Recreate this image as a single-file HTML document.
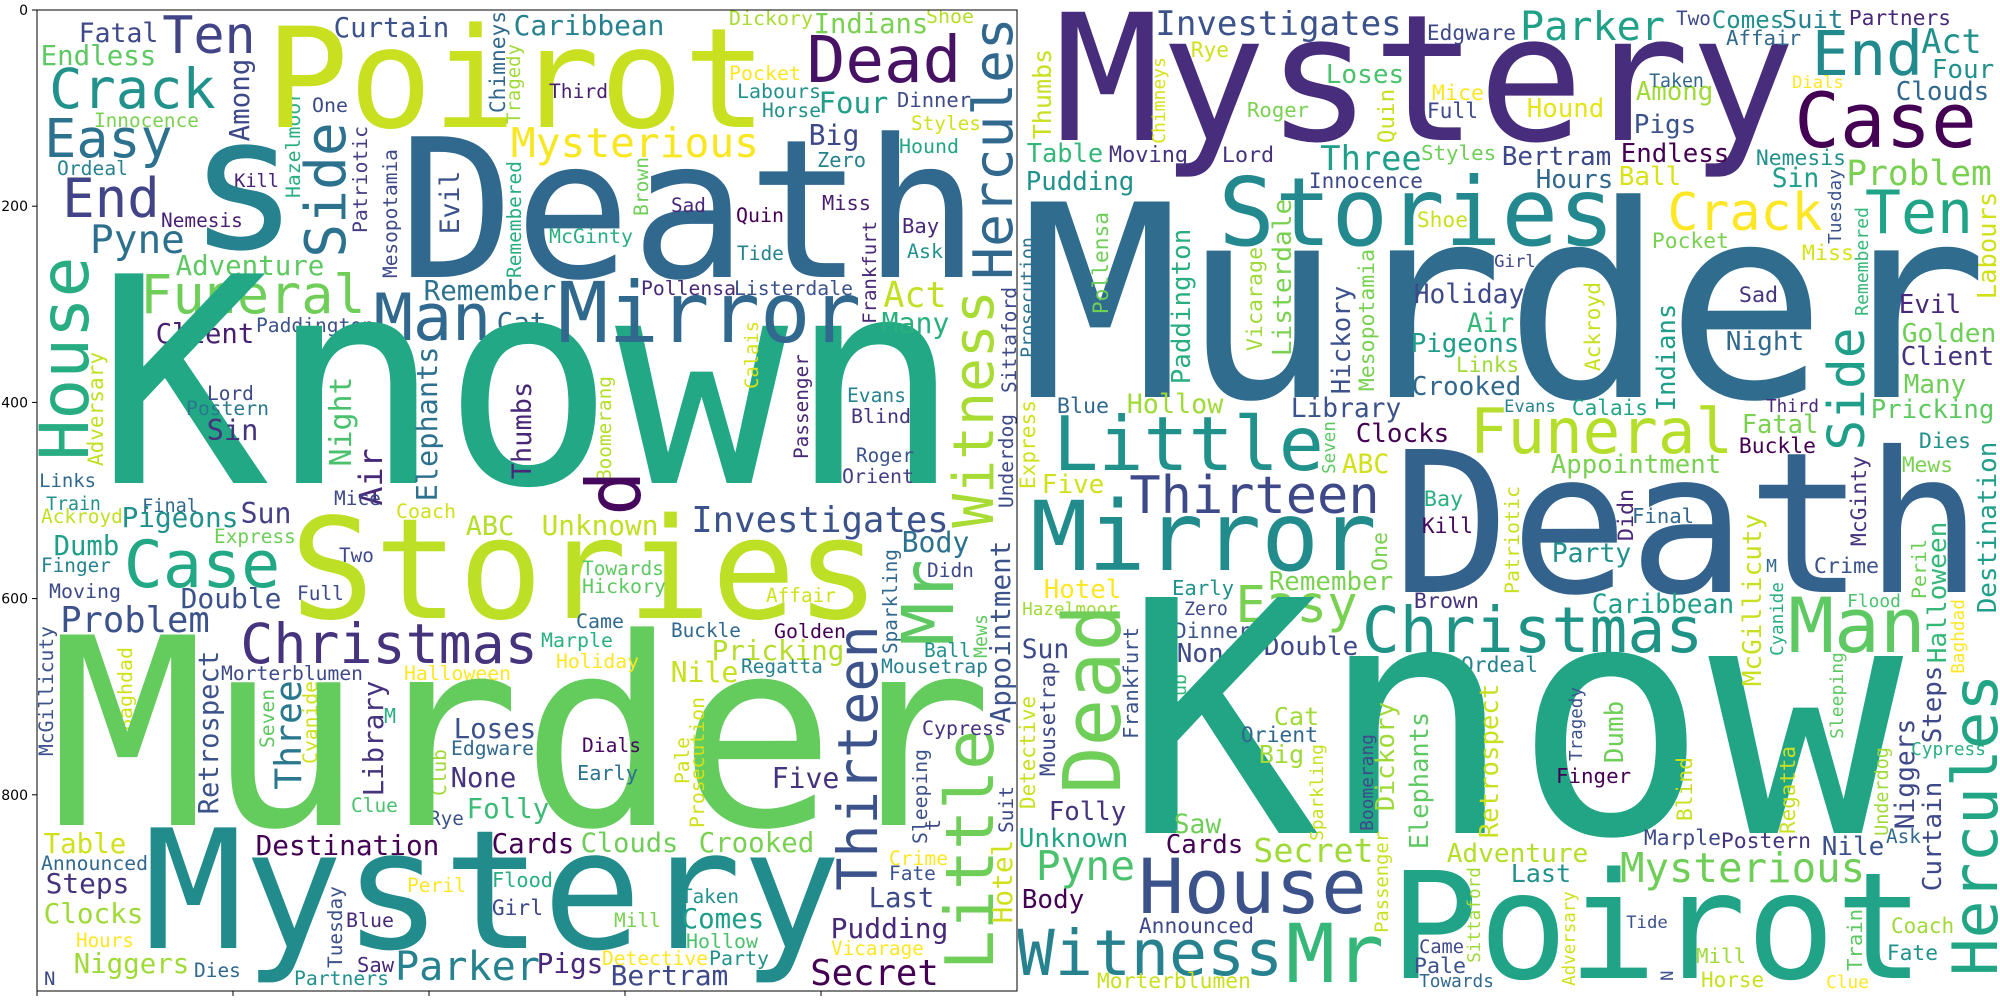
<!DOCTYPE html>
<html><head><meta charset="utf-8">
<style>
html,body{margin:0;padding:0;background:#fff;}
svg{display:block;}
text{font-family:"DejaVu Sans Mono","Liberation Mono",monospace;}
.tick{font-family:"DejaVu Sans","Liberation Sans",sans-serif;font-size:14px;fill:#000;}
</style></head>
<body>
<svg id="chart" width="2000" height="1000" viewBox="0 0 2000 1000" xmlns="http://www.w3.org/2000/svg">
<defs>
<clipPath id="clipL"><rect x="37" y="10" width="980" height="981"/></clipPath>
<clipPath id="clipR"><rect x="1018" y="10" width="982" height="981"/></clipPath>
</defs>
<rect x="0" y="0" width="2000" height="1000" fill="#fff"/>
<g id="left" clip-path="url(#clipL)"></g>
<g id="right" clip-path="url(#clipR)"></g>
<g id="axes"></g>
</svg>
<script>
const yTicks = [0,200,400,600,800];
const xTicks = [0,200,400,600,800];
const yTickLabels = ["0","200","400","600","800"];

const leftWords = [
["Fatal",80,42,77,"#3e4989",0],["Ten",165,53,88,"#414487",0],["Curtain",335,37,113,"#3b528b",0],
["Endless",42,65,113,"#5ec962",0],["Crack",52,108,161,"#21918c",0],["Among",249,140,80,"#3e4989",1],
["One",313,112,34,"#3e4989",0],["Innocence",95,127,103,"#7ad151",0],["Easy",47,157,123,"#2c728e",0],
["Ordeal",58,175,69,"#26828e",0],["End",65,217,92,"#414487",0],["Kill",235,187,43,"#482475",0],
["Nemesis",162,227,80,"#481f70",0],["Pyne",92,253,91,"#2d708e",0],["s",197,248,0,"#26828e",0,185],
["Side",345,255,130,"#2c728e",1],["Hazelmoor",300,197,105,"#29af7f",1],["Patriotic",367,232,105,"#433e85",1],
["Mesopotamia",397,277,127,"#3e4989",1],["Evil",459,233,61,"#3b528b",1],["Chimneys",505,112,100,"#31688e",1],
["Tragedy",520,123,78,"#a0da39",1],["Remembered",521,277,115,"#29af7f",1],["Poirot",272,127,488,"#c8e020",0],
["Death",408,277,562,"#31688e",0],["Adventure",177,275,146,"#5ec962",0],["Funeral",143,313,220,"#6ece58",0],
["House",88,457,197,"#27ad81",1],["Client",157,343,96,"#481f70",0],["Paddington",257,332,116,"#3b528b",0],
["Man",377,340,111,"#31688e",0],["Remember",425,300,130,"#2c728e",0],["Cat",498,332,47,"#31688e",0],
["Adversary",103,465,112,"#c2df23",1],["Known",110,483,837,"#22a884",0],["Lord",208,400,45,"#3e4989",0],
["Postern",187,415,81,"#2a788e",0],["Sin",208,440,49,"#46337e",0],["Night",351,465,87,"#4ac16d",1],
["Air",382,504,54,"#482878",1],["Elephants",437,500,152,"#2c728e",1],["Thumbs",531,478,95,"#482878",1],
["Links",40,487,55,"#31688e",0],["Train",47,510,53,"#21918c",0],["Final",143,512,54,"#31688e",0],
["Mice",335,505,45,"#3e4989",0],["Caribbean",515,35,148,"#26828e",0],["Dickory",730,25,82,"#a8db34",0],
["Indians",815,33,112,"#7ad151",0],["Shoe",927,23,46,"#b5de2b",0],["Dead",810,82,148,"#471164",0],
["Hercules",1012,277,257,"#31688e",1],["Pocket",730,80,70,"#fde725",0],["Third",550,98,57,"#481f70",0],
["Labours",738,98,82,"#21918c",0],["Four",820,113,67,"#1f9e89",0],["Horse",763,117,57,"#21918c",0],
["Dinner",898,107,72,"#3e4989",0],["Styles",912,130,68,"#d0e11c",0],["Mysterious",513,157,244,"#f8e621",0],
["Big",810,145,48,"#3e4989",0],["Hound",900,153,58,"#21a585",0],["Zero",818,167,47,"#26828e",0],
["Brown",648,215,57,"#6ece58",1],["Sad",672,212,33,"#482878",0],["Quin",737,222,46,"#440154",0],
["Miss",823,210,47,"#481f70",0],["McGinty",550,243,82,"#29af7f",0],["Bay",903,233,35,"#482878",0],
["Tide",738,260,45,"#26828e",0],["Ask",908,258,34,"#21918c",0],["Frankfurt",876,323,101,"#482878",1],
["Pollensa",642,295,93,"#482878",0],["Listerdale",735,295,117,"#3b528b",0],["Act",885,307,60,"#c2df23",0],
["Many",883,333,65,"#2ab07f",0],["Mirror",562,342,295,"#31688e",0],["Witness",993,525,232,"#a8db34",1],
["Sittaford",1016,392,104,"#3e4989",1],["Underdog",1013,507,92,"#3e4989",1],["Calais",758,388,66,"#d8e219",1],
["Boomerang",611,480,103,"#b5de2b",1],["Passenger",808,458,103,"#482878",1],["Evans",848,402,57,"#26828e",0],
["Blind",852,423,58,"#46337e",0],["Roger",857,462,56,"#3b528b",0],["Orient",843,483,70,"#433e85",0],
["d",640,512,0,"#46085c",1,75],["Ackroyd",42,523,80,"#c2df23",0],["Pigeons",123,527,114,"#21918c",0],
["Sun",242,523,48,"#433e85",0],["Coach",397,518,58,"#d0e11c",0],["ABC",467,535,46,"#b5de2b",0],
["Unknown",543,535,114,"#c2df23",0],["Investigates",693,532,254,"#3b528b",0],["Express",215,543,80,"#6ece58",0],
["Dumb",55,555,63,"#1f9e89",0],["Case",127,587,150,"#22a884",0],["Two",340,562,33,"#3e4989",0],
["Finger",42,572,68,"#26828e",0],["Moving",50,598,70,"#3e4989",0],["Double",182,608,98,"#3b528b",0],
["Full",298,600,45,"#3e4989",0],["Stories",297,618,576,"#bddf26",0],["Towards",583,575,80,"#5ec962",0],
["Hickory",583,593,82,"#5ec962",0],["Affair",767,602,68,"#d0e11c",0],["Body",903,552,65,"#2c728e",0],
["Didn",928,577,45,"#3e4989",0],["Sparkling",897,653,103,"#31688e",1],["Mr",953,642,79,"#5ec962",1],
["Appointment",1010,722,180,"#3b528b",1],["Mews",987,657,42,"#5ec962",1],["Problem",62,632,146,"#3b528b",0],
["Christmas",243,663,292,"#46337e",0],["McGillicuty",53,755,128,"#3b528b",1],["Morterblumen",222,680,140,"#3e4989",0],
["Halloween",405,680,105,"#fde725",0],["Baghdad",132,730,82,"#d0e11c",1],["Retrospect",218,813,161,"#3b528b",1],
["Three",301,788,106,"#2a788e",1],["Seven",274,747,57,"#5ec962",1],["Cyanide",317,763,81,"#d0e11c",1],
["Library",383,795,113,"#46337e",1],["M",385,723,0,"#29af7f",0,20],["Loses",455,738,80,"#3b528b",0],
["Edgware",452,755,81,"#31688e",0],["None",452,787,63,"#46337e",0],["Club",446,795,45,"#a0da39",1],
["Clue",352,812,45,"#4ac16d",0],["Rye",430,825,33,"#3b528b",0],["Folly",468,818,80,"#3bbb75",0],
["Murder",62,825,918,"#64cb5d",0],["Table",45,853,80,"#d0e11c",0],["Announced",42,870,105,"#31688e",0],
["Steps",47,893,81,"#46337e",0],["Clocks",45,923,97,"#a0da39",0],["Hours",77,947,56,"#fde725",0],
["Niggers",75,973,113,"#a0da39",0],["Dies",195,977,45,"#31688e",0],["N",45,985,0,"#3e4989",0,19],
["Destination",257,855,181,"#440154",0],["Mystery",152,948,681,"#228c8d",0],["Tuesday",342,967,80,"#3b528b",1],
["Blue",347,927,46,"#482878",0],["Saw",358,972,35,"#482878",0],["Partners",295,985,93,"#21918c",0],
["Peril",408,892,57,"#fde725",0],["Parker",397,980,141,"#26828e",0],["Cards",493,853,80,"#440154",0],
["Flood",493,887,59,"#29af7f",0],["Girl",493,915,49,"#3e4989",0],["Came",577,628,46,"#31688e",0],
["Marple",542,647,70,"#2ab07f",0],["Holiday",557,668,81,"#fde725",0],["Buckle",672,637,68,"#31688e",0],
["Golden",775,638,70,"#440154",0],["Pricking",713,660,130,"#b5de2b",0],["Nile",672,682,65,"#c8e020",0],
["Regatta",742,673,80,"#26828e",0],["Thirteen",877,888,260,"#3b528b",1],["Ball",925,657,45,"#21918c",0],
["Mousetrap",882,673,105,"#26828e",0],["Little",993,967,234,"#6ece58",1],["Cypress",923,735,82,"#46337e",0],
["Dials",583,752,57,"#46085c",0],["Early",578,780,59,"#2c728e",0],["Pale",689,783,45,"#d0e11c",1],
["Prosecution",704,827,129,"#d0e11c",1],["Five",773,788,65,"#46337e",0],["Sleeping",927,843,93,"#3b528b",1],
["t",940,830,0,"#3e4989",1,20],["Suit",1013,832,45,"#3e4989",1],["Hotel",1012,922,81,"#d0e11c",1],
["Clouds",582,852,95,"#6ece58",0],["Crooked",700,852,113,"#7ad151",0],["Crime",890,865,57,"#fde725",0],
["Fate",890,880,45,"#3b528b",0],["Last",870,907,63,"#3e4989",0],["Taken",682,903,56,"#21918c",0],
["Mill",615,927,45,"#7ad151",0],["Comes",683,928,80,"#1f9e89",0],["Hollow",687,948,70,"#4ac16d",0],
["Pudding",832,938,115,"#482878",0],["Vicarage",832,955,91,"#fde725",0],["Detective",603,965,104,"#fde725",0],
["Party",710,965,58,"#21918c",0],["Pigs",538,973,64,"#482878",0],["Bertram",612,985,115,"#3e4989",0],
["Secret",812,985,125,"#440154",0]
];

const rightWords = [
["Mystery",1063,140,724,"#472d7b",0],["Investigates",1157,35,243,"#3b528b",0],["Edgware",1428,40,87,"#3e4989",0],
["Thumbs",1051,138,88,"#c8e020",1],["Chimneys",1165,143,85,"#d8e219",1],["Rye",1192,57,36,"#d0e11c",0],
["Roger",1248,117,60,"#7ad151",0],["Loses",1327,83,76,"#4ac16d",0],["Mice",1433,100,50,"#fde725",0],
["Full",1428,118,49,"#3e4989",0],["Quin",1394,142,52,"#c8e020",1],["Table",1028,162,74,"#35b779",0],
["Moving",1110,162,77,"#46337e",0],["Lord",1223,162,50,"#46337e",0],["Three",1322,170,98,"#1f9e89",0],
["Styles",1422,160,73,"#6ece58",0],["Bertram",1503,165,107,"#3e4989",0],["Pudding",1027,190,106,"#21918c",0],
["Innocence",1310,188,112,"#3e4989",0],["Stories",1223,245,387,"#23898e",0],["Shoe",1418,227,49,"#c8e020",0],
["Hours",1537,188,75,"#31688e",0],["Ball",1620,185,60,"#d8e219",0],["Endless",1622,162,106,"#440154",0],
["Pigs",1635,133,60,"#3b528b",0],["Hound",1528,117,75,"#e5e419",0],["Parker",1522,40,141,"#1fa187",0],
["Among",1637,100,75,"#a0da39",0],["Taken",1650,87,53,"#31688e",0],["Two",1677,25,33,"#3e4989",0],
["Comes",1713,28,70,"#21918c",0],["Suit",1783,28,59,"#26828e",0],["Affair",1727,45,73,"#31688e",0],
["Partners",1850,25,100,"#482878",0],["End",1815,75,105,"#228a8d",0],["Act",1923,53,57,"#21918c",0],
["Four",1933,78,60,"#21918c",0],["Dials",1793,88,50,"#fde725",0],["Clouds",1897,100,91,"#31688e",0],
["Case",1798,147,175,"#440154",0],["Nemesis",1757,165,88,"#21918c",0],["Sin",1773,187,45,"#1f9e89",0],
["Problem",1848,185,142,"#7ad151",0],["Tuesday",1841,243,73,"#3b528b",1],["Crack",1670,230,150,"#fde725",0],
["Ten",1868,233,102,"#20a386",0],["Pocket",1653,248,75,"#7ad151",0],["Miss",1803,260,50,"#d8e219",0],
["Remembered",1868,315,107,"#35b779",1],["Labours",1996,298,105,"#d0e11c",1],["Girl",1495,267,40,"#3e4989",0],
["Murder",1033,397,942,"#2f6c8e",0],["Holiday",1415,303,108,"#3e4989",0],["Sad",1740,302,37,"#46337e",0],
["Evil",1900,313,60,"#482878",0],["Golden",1903,342,92,"#6ece58",0],["Client",1902,365,91,"#46337e",0],
["Night",1727,350,76,"#31688e",0],["Ackroyd",1600,370,87,"#c8e020",1],["Indians",1675,410,105,"#1f9e89",1],
["Air",1468,332,45,"#35b779",0],["Pigeons",1412,352,106,"#1f9e89",0],["Links",1457,372,61,"#a0da39",0],
["Crooked",1413,395,107,"#31688e",0],["Evans",1505,412,50,"#26828e",0],["Calais",1573,415,74,"#21a585",0],
["Third",1767,412,51,"#482878",0],["Side",1864,448,118,"#1f9e89",1],["Pricking",1872,418,121,"#5ec962",0],
["Many",1905,393,60,"#6ece58",0],["Funeral",1473,453,257,"#b5de2b",0],["Appointment",1552,473,168,"#7ad151",0],
["Fatal",1743,433,74,"#7ad151",0],["Buckle",1740,453,75,"#440154",0],["Dies",1920,448,50,"#21918c",0],
["Mews",1903,472,49,"#7ad151",0],["Destination",1996,612,169,"#1f9e89",1],["McGinty",1866,545,88,"#46337e",1],
["Hollow",1128,413,94,"#a0da39",0],["Blue",1058,413,50,"#31688e",0],["Library",1292,417,108,"#3b528b",0],
["Clocks",1357,442,91,"#440154",0],["Seven",1335,473,51,"#5ec962",1],["ABC",1343,473,45,"#d0e11c",0],
["Little",1057,470,263,"#21918c",0],["Five",1043,493,60,"#d0e11c",0],["Express",1035,488,87,"#d0e11c",1],
["Prosecution",1034,357,119,"#2c728e",1],["Pollensa",1108,313,100,"#6ece58",1],["Paddington",1190,383,153,"#29af7f",1],
["Vicarage",1262,350,102,"#a0da39",1],["Listerdale",1291,355,155,"#7ad151",1],["Hickory",1350,393,106,"#3b528b",1],
["Mesopotamia",1374,390,140,"#7ad151",1],["Thirteen",1132,513,245,"#3e4989",0],["Mirror",1035,570,337,"#228c8d",0],
["Death",1402,592,571,"#33638d",0],["Bay",1425,506,37,"#29af7f",0],["Kill",1423,533,49,"#46085c",0],
["One",1387,570,37,"#7ad151",1],["Patriotic",1519,593,106,"#c8e020",1],["Hotel",1045,598,75,"#fde725",0],
["Hazelmoor",1023,615,94,"#a0da39",0],["Early",1173,595,60,"#21918c",0],["Zero",1185,615,42,"#3e4989",0],
["Remember",1270,590,122,"#7ad151",0],["Easy",1238,622,117,"#7ad151",0],["Brown",1415,608,63,"#46337e",0],
["Christmas",1365,652,335,"#1f9386",0],["Dead",1120,790,182,"#6ece58",1],["Dinner",1175,638,75,"#3b528b",0],
["None",1178,662,60,"#3e4989",0],["Double",1265,655,92,"#3e4989",0],["Sun",1023,658,45,"#3e4989",0],
["Ordeal",1462,672,75,"#26828e",0],["Mousetrap",1055,775,112,"#3e4989",1],["Frankfurt",1138,738,110,"#3b528b",1],
["Club",1186,717,42,"#35b779",1],["Detective",1035,808,111,"#c8e020",1],["Know",1140,833,747,"#21a585",0],
["Cat",1275,725,43,"#a0da39",0],["Orient",1242,742,75,"#31688e",0],["Big",1260,763,43,"#a0da39",0],
["Sparkling",1323,840,95,"#c8e020",1],["Boomerang",1373,830,95,"#3e4989",1],["Dickory",1394,810,107,"#a0da39",1],
["Elephants",1428,848,135,"#5ec962",1],["Retrospect",1498,837,152,"#c8e020",1],["Folly",1050,820,75,"#46337e",0],
["Saw",1175,833,45,"#6ece58",0],["Unknown",1020,847,107,"#21a585",0],["Cards",1167,853,75,"#440154",0],
["Secret",1255,862,117,"#a0da39",0],["Passenger",1388,932,100,"#c8e020",1],["Adventure",1448,862,139,"#b5de2b",0],
["Pyne",1038,880,95,"#4ac16d",0],["House",1142,913,221,"#3b528b",0],["Body",1023,908,60,"#440154",0],
["Announced",1140,933,113,"#3e4989",0],["Witness",1020,975,260,"#26828e",0],["Mr",1290,982,90,"#35b779",0],
["Morterblumen",1098,988,152,"#c8e020",0],["Poirot",1397,978,520,"#20a386",0],["Sittaford",1480,962,94,"#a0da39",1],
["Came",1420,953,43,"#3e4989",0],["Pale",1415,973,50,"#3b528b",0],["Towards",1420,987,73,"#31688e",0],
["Didn",1633,540,50,"#482878",1],["Final",1633,523,60,"#31688e",0],["Party",1553,562,77,"#21918c",0],
["McGillicuty",1761,685,170,"#c8e020",1],["M",1767,572,0,"#31688e",0,18],["Crime",1815,573,63,"#3b528b",0],
["Cyanide",1783,655,72,"#29af7f",1],["Flood",1848,607,52,"#4ac16d",0],["Peril",1926,598,58,"#6ece58",1],
["Halloween",1946,662,139,"#35b779",1],["Baghdad",1964,673,73,"#fde725",1],["Man",1792,652,130,"#5ec962",0],
["Caribbean",1593,613,140,"#1f9e89",0],["Sleeping",1843,738,85,"#5ec962",1],["Tragedy",1582,760,72,"#3b528b",1],
["Dumb",1623,762,60,"#6ece58",1],["Finger",1557,783,73,"#440154",0],["Blind",1692,820,62,"#c8e020",1],
["Regatta",1795,833,86,"#c8e020",1],["Underdog",1888,835,87,"#a0da39",1],["Niggers",1914,828,108,"#3e4989",1],
["Steps",1941,742,75,"#3e4989",1],["Cypress",1912,755,73,"#2ab07f",0],["Curtain",1941,890,107,"#3e4989",1],
["Hercules",1997,973,296,"#21a585",1],["Ask",1887,843,33,"#31688e",0],["Marple",1645,845,75,"#3e4989",0],
["Postern",1722,848,88,"#46337e",0],["Nile",1823,855,60,"#3b528b",0],["Mysterious",1622,882,241,"#6ece58",0],
["Last",1512,882,58,"#21918c",0],["Tide",1627,928,40,"#3b528b",0],["Adversary",1575,985,93,"#d0e11c",1],
["Mill",1697,963,48,"#a0da39",0],["Horse",1702,987,61,"#c8e020",0],["N",1673,980,0,"#3b528b",1,17],
["Train",1862,970,60,"#5ec962",1],["Clue",1827,988,41,"#fde725",0],["Coach",1892,933,61,"#a0da39",0],
["Fate",1888,960,49,"#21918c",0]
];

const NS = "http://www.w3.org/2000/svg";
const axX0 = 37, axY0 = 10, axW = 980, axH = 981;
function xScale(v){ return axX0 + v * axW / 1000; }
function yScale(v){ return axY0 + v * axH / 1000; }

function place(g, arr, side){
  arr.forEach(function(w){
    const t = w[0], x = w[1], y = w[2], L = w[3], c = w[4], v = w[5];
    const n = t.length;
    const fs = w[6] ? w[6] : L / (0.602 * n - 0.1);
    const adv = 0.602 * n * fs;
    const el = document.createElementNS(NS, "text");
    
    
    el.textContent = t;
    el.setAttribute("font-size", fs.toFixed(1));
    el.setAttribute("fill", c);
    if (!w[6]) { el.setAttribute("textLength", adv.toFixed(1)); el.setAttribute("lengthAdjust", "spacingAndGlyphs"); }
    if (v) {
      el.setAttribute("x", 0); el.setAttribute("y", 0);
      el.setAttribute("transform", "translate(" + x + "," + (y + 0.05 * fs).toFixed(1) + ") rotate(-90)");
    } else {
      el.setAttribute("x", (x - 0.05 * fs).toFixed(1));
      el.setAttribute("y", y);
    }
    g.appendChild(el);
  });
}
place(document.getElementById("left"), leftWords, "left");
place(document.getElementById("right"), rightWords, "right");

const ax = document.getElementById("axes");
const frame = document.createElementNS(NS, "rect");


frame.setAttribute("x", axX0); frame.setAttribute("y", axY0);
frame.setAttribute("width", axW); frame.setAttribute("height", axH);
frame.setAttribute("fill", "none"); frame.setAttribute("stroke", "#000"); frame.setAttribute("stroke-width", "1");
ax.appendChild(frame);
yTicks.forEach(function(v, i){
  const yy = yScale(v);
  const ln = document.createElementNS(NS, "line");
  
  
  ln.setAttribute("x1", axX0 - 5); ln.setAttribute("x2", axX0);
  ln.setAttribute("y1", yy); ln.setAttribute("y2", yy);
  ln.setAttribute("stroke", "#000");
  ax.appendChild(ln);
  const tx = document.createElementNS(NS, "text");
  
  
  tx.setAttribute("class", "tick");
  tx.setAttribute("x", axX0 - 9); tx.setAttribute("y", yy + 5);
  tx.setAttribute("text-anchor", "end");
  tx.textContent = yTickLabels[i];
  ax.appendChild(tx);
});
xTicks.forEach(function(v){
  const xx = xScale(v);
  const ln = document.createElementNS(NS, "line");
  
  
  ln.setAttribute("x1", xx); ln.setAttribute("x2", xx);
  ln.setAttribute("y1", axY0 + axH); ln.setAttribute("y2", axY0 + axH + 5);
  ln.setAttribute("stroke", "#000");
  ax.appendChild(ln);
});
</script>
</body></html>
